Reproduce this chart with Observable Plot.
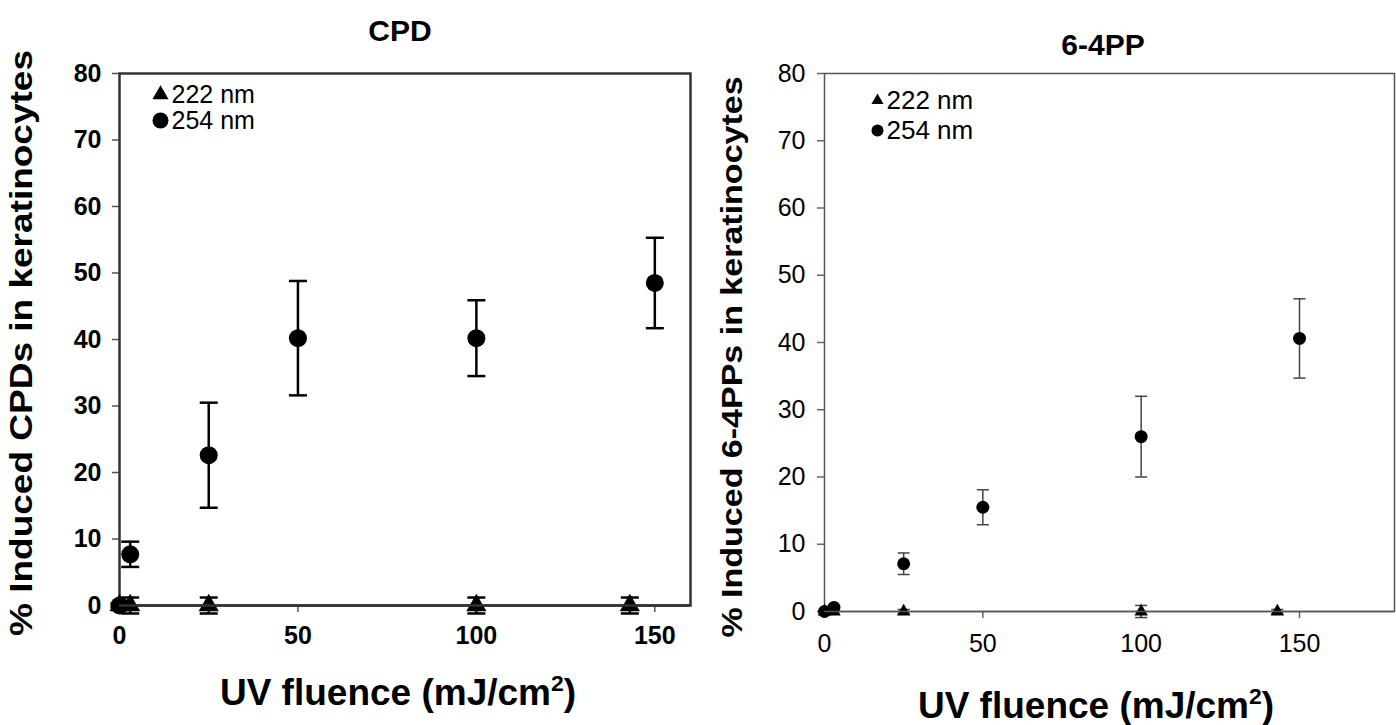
<!DOCTYPE html>
<html>
<head>
<meta charset="utf-8">
<script src="https://cdn.jsdelivr.net/npm/d3@7"></script>
<script src="https://cdn.jsdelivr.net/npm/@observablehq/plot@0.6"></script>
<style>
  body { margin: 0; background: #fff; }
  #wrap { position: relative; width: 1396px; height: 725px; overflow: hidden; font-family: "Liberation Sans", Arial, sans-serif; color: #000; }
  .panel { position: absolute; top: 0; }
  .t { position: absolute; font-weight: bold; white-space: nowrap; transform: translate(-50%, -50%); }
  .yt { position: absolute; font-weight: bold; white-space: nowrap; transform: translate(-50%, -50%) rotate(-90deg) scale(1, 0.85); }
  sup { font-size: 0.62em; vertical-align: 0.6em; line-height: 0; }
</style>
</head>
<body>
<div id="wrap"></div>
<script>
// ---- data ----
const seriesNames = ["222 nm", "254 nm"];
const xTicks = [0, 50, 100, 150];
const yTicks = [0, 10, 20, 30, 40, 50, 60, 70, 80];

// CPD panel
const cpd222_x = [0, 3, 25, 100, 143];
const cpd222_y = [0, 0, 0, 0, 0];
const cpd222_sd = [0.3, 1.2, 1.2, 1.2, 1.2];
const cpd254_x = [0, 3, 25, 50, 100, 150];
const cpd254_y = [0, 7.7, 22.6, 40.2, 40.2, 48.5];
const cpd254_sd = [0, 1.9, 7.9, 8.6, 5.7, 6.8];

// 6-4PP panel
const pp222_x = [0, 3, 25, 100, 143];
const pp222_y = [0, 0, 0, 0, 0];
const pp222_sd = [0, 0, 0.3, 0.9, 0.3];
const pp254_x = [0, 3, 25, 50, 100, 150];
const pp254_y = [0, 0.6, 7.1, 15.5, 26, 40.6];
const pp254_sd = [0, 0, 1.6, 2.6, 6, 5.9];

const rows = (xs, ys, sds) => xs.map((x, i) => ({x, y: ys[i], lo: ys[i] - sds[i], hi: ys[i] + sds[i], sd: sds[i]}));

// horizontal error-bar cap drawn as a custom symbol
const capSymbol = {
  draw(ctx, size) {
    const w = Math.sqrt(size / Math.PI);
    ctx.moveTo(-w, 0);
    ctx.lineTo(w, 0);
  }
};

function panel(cfg) {
  const a = rows(cfg.t_x, cfg.t_y, cfg.t_sd);
  const b = rows(cfg.c_x, cfg.c_y, cfg.c_sd);
  const ae = a.filter(d => d.sd > 0), be = b.filter(d => d.sd > 0);
  const err = (data) => [
    Plot.ruleX(data, {x: "x", y1: "lo", y2: "hi", stroke: cfg.errColor, strokeWidth: cfg.errWidth}),
    Plot.dot(data, {x: "x", y: "lo", symbol: capSymbol, r: cfg.capR, stroke: cfg.errColor, strokeWidth: cfg.errWidth, fill: "none"}),
    Plot.dot(data, {x: "x", y: "hi", symbol: capSymbol, r: cfg.capR, stroke: cfg.errColor, strokeWidth: cfg.errWidth, fill: "none"})
  ];
  const legText = (i, dy) => Plot.text([seriesNames[i]], {
    frameAnchor: "top-left", dx: cfg.legTx, dy, text: d => d,
    textAnchor: "start", lineAnchor: "middle", fontSize: cfg.legFont, fontWeight: "normal"
  });
  return Plot.plot({
    width: cfg.width, height: 725,
    marginLeft: cfg.ml, marginRight: cfg.mr, marginTop: cfg.mt, marginBottom: cfg.mb,
    style: {fontFamily: "'Liberation Sans', Arial, sans-serif", fontSize: cfg.tickFont + "px", fontWeight: cfg.tickWeight, color: "#000", background: "transparent", overflow: "visible"},
    x: {domain: [0, cfg.xmax]},
    y: {domain: [0, 80]},
    marks: [
      Plot.axisX({ticks: xTicks, tickSize: 7, tickPadding: cfg.xPad, stroke: cfg.axisColor, strokeWidth: 1.5, label: null, fill: "#000"}),
      Plot.axisY({ticks: yTicks, tickSize: 7, tickPadding: cfg.yPad, stroke: cfg.axisColor, strokeWidth: 1.5, label: null, fill: "#000"}),
      Plot.frame({stroke: cfg.frameColor, strokeWidth: cfg.frameWidth}),
      ...err(ae),
      ...err(be),
      Plot.dot(a, {x: "x", y: "y", symbol: "triangle", r: cfg.triR, fill: "#000"}),
      Plot.dot(b, {x: "x", y: "y", symbol: "circle", r: cfg.circR, fill: "#000"}),
      Plot.ruleY([0], {stroke: cfg.frameColor, strokeWidth: cfg.frameWidth}),
      // legend
      Plot.dot([seriesNames[0]], {frameAnchor: "top-left", dx: cfg.legDx, dy: cfg.legDy1, symbol: "triangle", r: cfg.legTriR, fill: "#000"}),
      Plot.dot([seriesNames[1]], {frameAnchor: "top-left", dx: cfg.legDx, dy: cfg.legDy2, symbol: "circle", r: cfg.legCircR, fill: "#000"}),
      legText(0, cfg.legDy1),
      legText(1, cfg.legDy2)
    ]
  });
}

const wrap = document.getElementById("wrap");

const left = panel({
  width: 700, ml: 119, mr: 10, mt: 73, mb: 120, xmax: 160,
  t_x: cpd222_x, t_y: cpd222_y, t_sd: cpd222_sd,
  c_x: cpd254_x, c_y: cpd254_y, c_sd: cpd254_sd,
  tickFont: 25, tickWeight: "bold", axisColor: "#555", xPad: 14, yPad: 11,
  frameColor: "#333", frameWidth: 2.5,
  errColor: "#000", errWidth: 2.5, capR: 9,
  triR: 7.5, circR: 9,
  legDx: 41, legDy1: 21, legDy2: 47, legTx: 52, legTriR: 6, legCircR: 8, legFont: 25
});
left.classList.add("panel");
left.style.left = "0px";
wrap.appendChild(left);

const right = panel({
  width: 696, ml: 124, mr: 2, mt: 73, mb: 114, xmax: 180,
  t_x: pp222_x, t_y: pp222_y, t_sd: pp222_sd,
  c_x: pp254_x, c_y: pp254_y, c_sd: pp254_sd,
  tickFont: 25, tickWeight: "normal", axisColor: "#666", xPad: 16, yPad: 12,
  frameColor: "#555", frameWidth: 1.5,
  errColor: "#444", errWidth: 1.5, capR: 6,
  triR: 5, circR: 6.5,
  legDx: 53, legDy1: 27, legDy2: 57, legTx: 62, legTriR: 4.5, legCircR: 6, legFont: 26
});
right.classList.add("panel");
right.style.left = "700px";
wrap.appendChild(right);

// titles
const texts = [
  {cls: "t", x: 400, y: 31, size: 30, html: "CPD"},
  {cls: "t", x: 1103, y: 45, size: 30, html: "6-4PP"},
  {cls: "t", x: 398, y: 693, size: 37, html: "UV fluence (mJ/cm<sup>2</sup>)"},
  {cls: "t", x: 1096, y: 706, size: 37, html: "UV fluence (mJ/cm<sup>2</sup>)"},
  {cls: "yt", x: 22, y: 343, size: 37, html: "% Induced CPDs in keratinocytes"},
  {cls: "yt", x: 732, y: 357, size: 34, html: "% Induced 6-4PPs in keratinocytes"}
];
for (const t of texts) {
  const el = document.createElement("div");
  el.className = t.cls;
  el.style.left = t.x + "px";
  el.style.top = t.y + "px";
  el.style.fontSize = t.size + "px";
  el.innerHTML = t.html;
  wrap.appendChild(el);
}
</script>
</body>
</html>
